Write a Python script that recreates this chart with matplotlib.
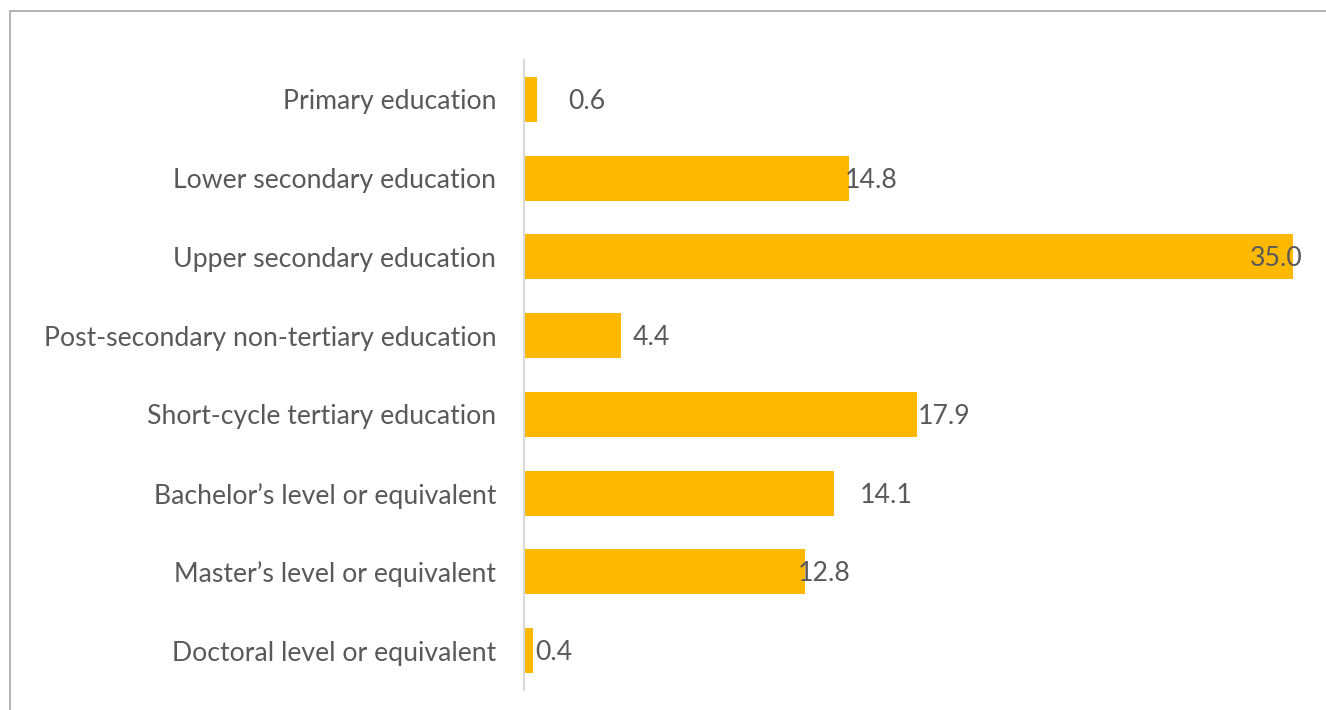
import matplotlib
matplotlib.use("Agg")
import matplotlib.pyplot as plt
from matplotlib.patches import Rectangle

categories = [
    "Primary education",
    "Lower secondary education",
    "Upper secondary education",
    "Post-secondary non-tertiary education",
    "Short-cycle tertiary education",
    "Bachelor\u2019s level or equivalent",
    "Master\u2019s level or equivalent",
    "Doctoral level or equivalent",
]
values = [0.6, 14.8, 35.0, 4.4, 17.9, 14.1, 12.8, 0.4]

# label horizontal offsets (pixels from bar end to label left edge), as in the original
label_offsets = [31, -4, -43, 12, 0, 26, -7, 2]

FONT = ["Lato", "DejaVu Sans"]
W, H = 1326, 710
fig = plt.figure(figsize=(W / 100, H / 100), dpi=100)
fig.patch.set_facecolor("white")

# outer border (top and left visible)
fig.add_artist(Rectangle((10 / W, -0.1), 1.2, (H - 11) / H + 0.1, transform=fig.transFigure,
                         fill=False, edgecolor="#a6a6a6", linewidth=1.2))

ax = fig.add_axes([524 / W, 1 - 690 / H, (1293 - 524) / W, (690 - 60) / H])
ypos = list(range(len(categories)))
ax.barh(ypos, values, height=0.57, color="#FFB800", edgecolor="none")
ax.set_xlim(0, 35)
ax.set_ylim(len(categories) - 0.5, -0.5)
ax.set_yticks(ypos)
ax.set_yticklabels(categories, fontsize=19.2, color="#595959", family=FONT)
ax.tick_params(axis="y", length=0, pad=20)
ax.set_xticks([])
for s in ["top", "right", "bottom"]:
    ax.spines[s].set_visible(False)
ax.spines["left"].set_color("#d9d9d9")
ax.spines["left"].set_linewidth(1.5)

for y, v, off in zip(ypos, values, label_offsets):
    ax.annotate(f"{v:.1f}", xy=(v, y), xytext=(off, -2), textcoords="offset pixels",
                ha="left", va="center", fontsize=19.2, color="#595959",
                family=FONT, annotation_clip=False)

fig.savefig("out.png", dpi=100)
